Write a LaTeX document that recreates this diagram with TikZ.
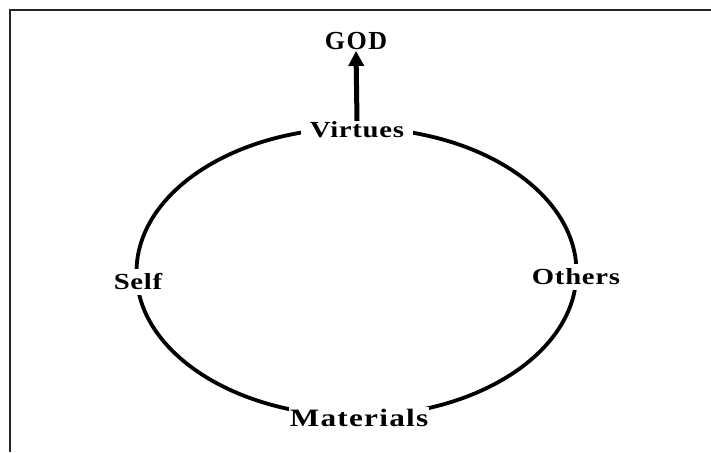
\documentclass[tikz,border=0pt]{standalone}
\usepackage{fontspec}
\setmainfont{Liberation Serif}[FakeStretch=1.25,LetterSpace=3]
\newfontfamily\godfont{Liberation Serif}[LetterSpace=6]
\usetikzlibrary{arrows.meta}
\begin{document}
\begin{tikzpicture}[x=1pt,y=-1pt,
  lbl/.style={font=\bfseries\fontsize{23}{26}\selectfont, fill=white, inner sep=2pt},
  ring/.style={line width=3.8pt},
  up/.style={line width=5pt, -{Triangle[width=15pt,length=15pt]}}]
\useasboundingbox (0,0) rectangle (711,452);
\draw[line width=1.2pt, black!85] (711,10) -- (10,10) -- (10,452);
\draw[ring] (356.5,272) ellipse [x radius=220, y radius=144];
\node[lbl, inner xsep=9pt] (virt) at (357,130) {Virtues};
\node[font=\godfont\bfseries\fontsize{26}{30}\selectfont, inner sep=1pt] (god) at (356,41) {GOD};
\node[lbl, inner ysep=5pt] (self) at (138,282) {Self};
\node[lbl, inner ysep=5pt] (oth) at (576,277) {Others};
\node[lbl, inner xsep=1pt, font=\bfseries\fontsize{25}{28}\selectfont] (mat) at (359,418) {\addfontfeature{LetterSpace=5}Materials};
\draw[up] (357,121) -- (god.south);
\end{tikzpicture}
\end{document}
